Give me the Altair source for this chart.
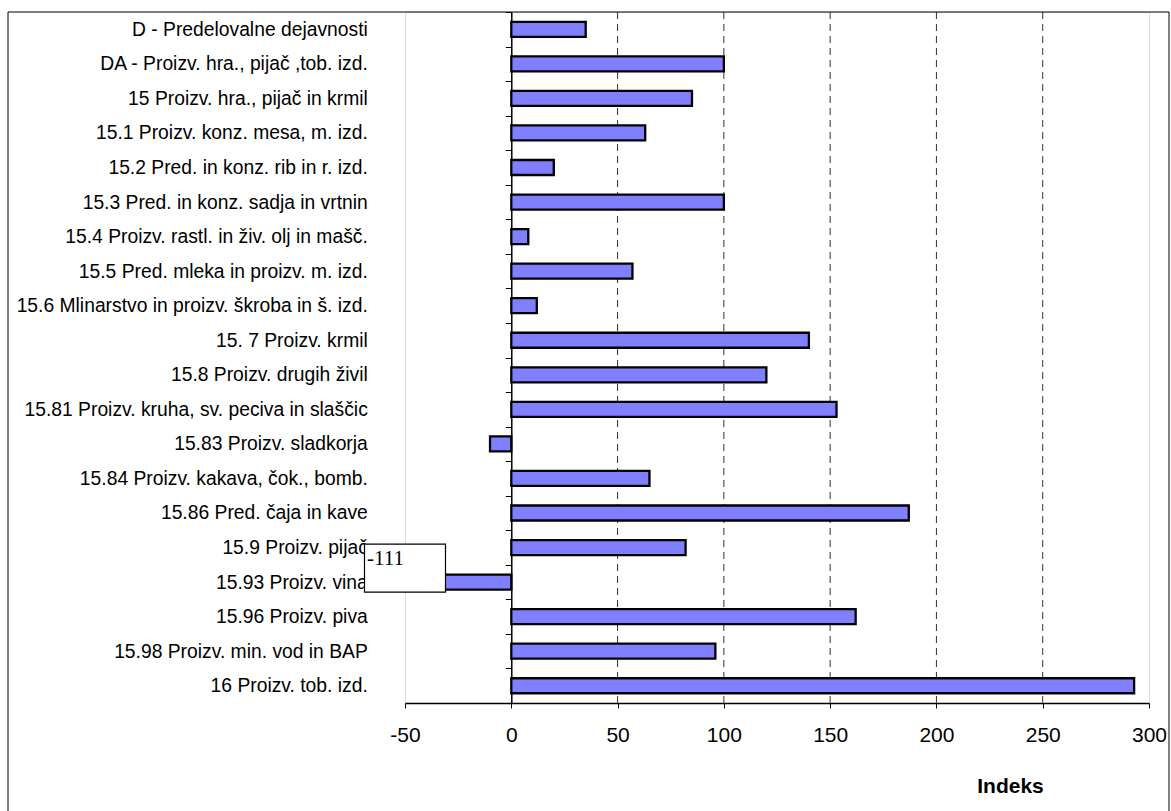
import altair as alt
import pandas as pd

# Categories (top to bottom) and their index values
categories = [
    "D - Predelovalne dejavnosti",
    "DA - Proizv. hra., pijač ,tob. izd.",
    "15 Proizv. hra., pijač in krmil",
    "15.1 Proizv. konz. mesa, m. izd.",
    "15.2 Pred. in konz. rib in r. izd.",
    "15.3 Pred. in konz. sadja in vrtnin",
    "15.4 Proizv. rastl. in živ. olj in mašč.",
    "15.5 Pred. mleka in proizv. m. izd.",
    "15.6 Mlinarstvo in proizv. škroba in š. izd.",
    "15. 7 Proizv. krmil",
    "15.8 Proizv. drugih živil",
    "15.81 Proizv. kruha, sv. peciva in slaščic",
    "15.83 Proizv. sladkorja",
    "15.84 Proizv. kakava, čok., bomb.",
    "15.86 Pred. čaja in kave",
    "15.9 Proizv. pijač",
    "15.93 Proizv. vina",
    "15.96 Proizv. piva",
    "15.98 Proizv. min. vod in BAP",
    "16 Proizv. tob. izd.",
]
values = [35, 100, 85, 63, 20, 100, 8, 57, 12, 140, 120, 153, -10, 65, 187, 82, -111, 162, 96, 293]

x_ticks = [-50, 0, 50, 100, 150, 200, 250, 300]
grid_values = [50, 100, 150, 200, 250]

X_MIN, X_MAX = -50, 300
W, H = 744, 691

df = pd.DataFrame({"kategorija": categories, "indeks": values})
df["oznaka"] = df["indeks"].astype(int).astype(str)
grid_df = pd.DataFrame({"g": grid_values})
frame_df = pd.DataFrame({"k": [0]})

# pixel distance from the left edge of the plot to the zero line
zero_px = W * (0 - X_MIN) / (X_MAX - X_MIN)

FONT = "Liberation Sans"
xscale = alt.Scale(domain=[X_MIN, X_MAX], nice=False, zero=False)
yscale = alt.Scale(domain=categories, paddingInner=0, paddingOuter=0)

x_axis = alt.Axis(
    values=x_ticks,
    grid=False,
    domainColor="black",
    domainWidth=1.5,
    tickColor="black",
    tickSize=5,
    tickWidth=1,
    labelFont=FONT,
    labelFontSize=21,
    labelColor="black",
    labelPadding=16,
    labelFlush=False,
    labelExpr="toString(datum.value)",
    title="Indeks",
    titleFont=FONT,
    titleFontSize=21,
    titleFontWeight="bold",
    titleColor="black",
    titleX=605,
    titleY=89,
    titleAlign="center",
    titleBaseline="alphabetic",
)

y_axis = alt.Axis(
    title=None,
    orient="left",
    offset=-zero_px,
    grid=False,
    domainColor="black",
    domainWidth=1.5,
    tickBand="extent",
    tickColor="black",
    tickSize=6,
    tickWidth=1,
    labelFont=FONT,
    labelFontSize=19.3,
    labelColor="black",
    labelPadding=138,
    labelLimit=500,
)

base = alt.Chart(df)

grid = alt.Chart(grid_df).mark_rule(
    color="#333333", strokeWidth=1, strokeDash=[7, 5]
).encode(x=alt.X("g:Q", scale=xscale, axis=x_axis))

bars = base.mark_bar(
    size=15, fill="#8080ff", stroke="black", strokeWidth=2.3, clip=True
).encode(
    x=alt.X("indeks:Q", scale=xscale, axis=x_axis),
    y=alt.Y("kategorija:N", sort=categories, scale=yscale, axis=y_axis),
)

# value label box for the bar that runs past the left end of the axis
off_scale = base.transform_filter(alt.datum.indeks < X_MIN)

label_box = off_scale.mark_rect(
    width=81, height=48, yOffset=-14, fill="white", stroke="black", strokeWidth=1.2, clip=False
).encode(
    x=alt.datum(X_MIN),
    y=alt.Y("kategorija:N", sort=categories, scale=yscale),
)

label_text = off_scale.mark_text(
    align="left", baseline="alphabetic", font="Liberation Serif", fontSize=21,
    dx=-38, dy=-17, color="black", clip=False
).encode(
    x=alt.datum(X_MIN),
    y=alt.Y("kategorija:N", sort=categories, scale=yscale),
    text="oznaka:N",
)

# outer border of the chart
frame = alt.Chart(frame_df).mark_rect(
    fill=None, stroke="black", strokeWidth=1, clip=False
).encode(
    x=alt.value(-397), x2=alt.value(764), y=alt.value(0), y2=alt.value(830)
)

chart = alt.layer(grid, bars, label_box, label_text, frame).properties(
    width=W,
    height=H,
    padding={"left": 405, "top": 12, "right": 22, "bottom": 108},
    autosize=alt.AutoSizeParams(type="none"),
).configure_view(
    stroke="#808080", strokeWidth=2
).configure(background="white")

chart.save("out.html", embed_options={"renderer": "svg", "actions": False})
